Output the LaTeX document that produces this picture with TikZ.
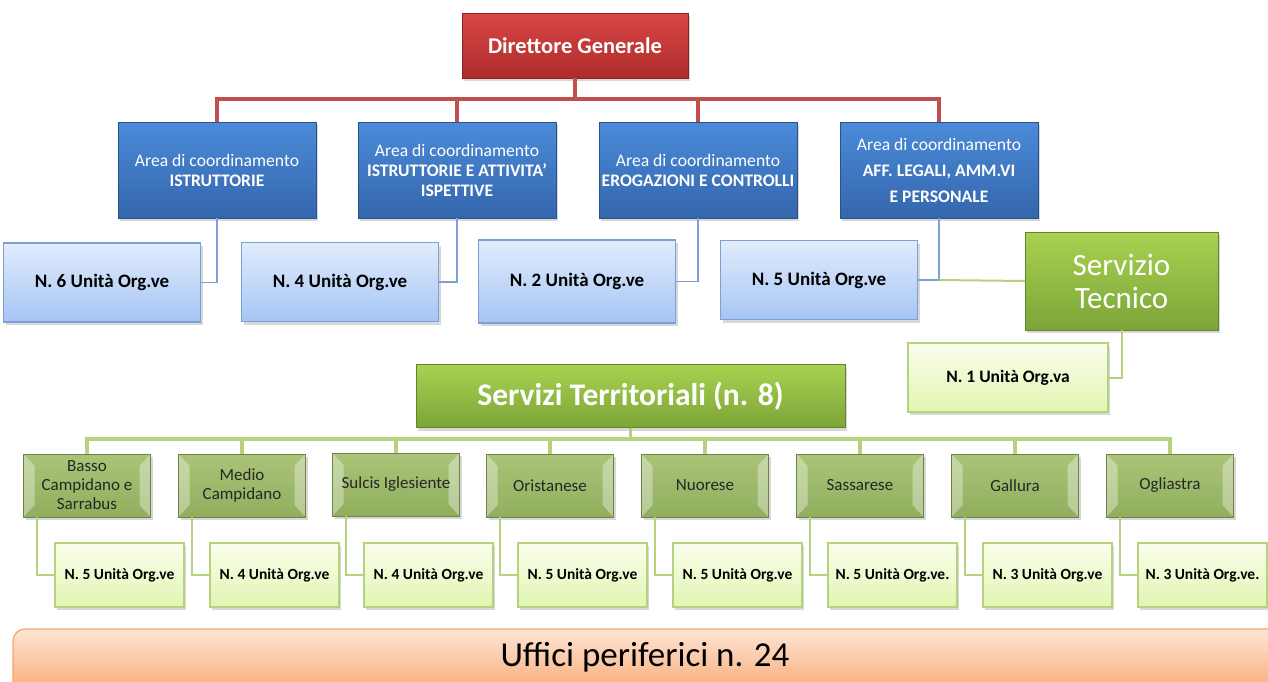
\documentclass[tikz,border=0pt]{standalone}
\usepackage{fontspec}
\setmainfont{Carlito}
\usetikzlibrary{shadows}

\definecolor{dgtop}{HTML}{DA4646}
\definecolor{dgbot}{HTML}{AE2B2B}
\definecolor{dgline}{HTML}{C0504D}
\definecolor{areatop}{HTML}{4B8BD9}
\definecolor{areabot}{HTML}{3466AC}
\definecolor{unittop}{HTML}{E1ECFC}
\definecolor{unitbot}{HTML}{A6C5F4}
\definecolor{unitline}{HTML}{7AA0D4}
\definecolor{servtop}{HTML}{A8D250}
\definecolor{servbot}{HTML}{7CA439}
\definecolor{terrtop}{HTML}{AAC478}
\definecolor{terrbot}{HTML}{91AE5E}
\definecolor{subtop}{HTML}{FBFEEC}
\definecolor{subbot}{HTML}{E1F5B2}
\definecolor{subline}{HTML}{B5D27E}
\definecolor{ufftop}{HTML}{FDE5D5}
\definecolor{uffbot}{HTML}{F7A46B}

\begin{document}
\begin{tikzpicture}[x=1pt,y=-1pt]
\tikzstyle{every node}+=[inner sep=0pt, outer sep=0pt]
\tikzstyle{boxshadow}=[drop shadow={shadow xshift=2pt, shadow yshift=-3pt, opacity=0.3}]
\tikzstyle{dirbox}=[boxshadow, top color=dgtop, bottom color=dgbot, draw=dgbot!80!black, line width=1pt, text=white, font=\fontsize{22.5}{26}\selectfont\bfseries]
\tikzstyle{areabox}=[boxshadow, top color=areatop, bottom color=areabot, draw=areabot!80!black, line width=1pt, text=white, align=center, minimum width=198, minimum height=96, font=\fontsize{17.6}{20}\selectfont]
\tikzstyle{unitbox}=[boxshadow, top color=unittop, bottom color=unitbot, draw=unitline, line width=1.2pt, minimum width=197, minimum height=79, font=\fontsize{19}{22}\selectfont\bfseries]
\tikzstyle{servbox}=[boxshadow, top color=servtop, bottom color=servbot, draw=servbot!80!black, line width=1pt, text=white, align=center]
\tikzstyle{terrbox}=[boxshadow, top color=terrtop, bottom color=terrbot, draw=terrbot!75!black, line width=1pt, text=black!85, align=center, minimum width=127, minimum height=63, font=\fontsize{17}{19}\selectfont,
  path picture={
    \fill[white,opacity=0.35] (path picture bounding box.north west) -- ([xshift=11pt,yshift=-12pt]path picture bounding box.north west) -- ([xshift=11pt,yshift=12pt]path picture bounding box.south west) -- (path picture bounding box.south west) -- cycle;
    \fill[white,opacity=0.35] (path picture bounding box.north east) -- ([xshift=-11pt,yshift=-12pt]path picture bounding box.north east) -- ([xshift=-11pt,yshift=12pt]path picture bounding box.south east) -- (path picture bounding box.south east) -- cycle;}]
\tikzstyle{subbox}=[boxshadow, top color=subtop, bottom color=subbot, draw=subline, line width=1.2pt, minimum width=129, minimum height=64, font=\fontsize{15.5}{18}\selectfont\bfseries]
\tikzstyle{redline}=[dgline, line width=3.5pt]
\tikzstyle{blueline}=[unitline, line width=1.8pt]
\tikzstyle{greenline}=[subline, line width=2pt]
\tikzstyle{terrline}=[subline, line width=3.5pt]

\clip (0,0) rectangle (1268,681);
\fill[white] (0,0) rectangle (1268,681);

% direzione e aree
\node[dirbox, minimum width=226, minimum height=65] (dg) at (575,45.5) {Direttore Generale};
\node[areabox] (a1) at (217,170) {Area di coordinamento\\\textbf{ISTRUTTORIE}};
\node[areabox] (a2) at (457,170) {Area di coordinamento\\\textbf{ISTRUTTORIE E ATTIVITA’}\\\textbf{ISPETTIVE}};
\node[areabox] (a3) at (698,170) {Area di coordinamento\\\textbf{EROGAZIONI E CONTROLLI}};
\node[areabox] (a4) at (939,170) {Area di coordinamento\\[6pt]\textbf{AFF. LEGALI, AMM.VI}\\[6pt]\textbf{E PERSONALE}};
\coordinate (rbus) at (575,99);
\draw[redline] (dg.south) -- (rbus);
\draw[redline] (rbus) -| (a1.north);
\draw[redline] (rbus) -| (a2.north);
\draw[redline] (rbus) -| (a3.north);
\draw[redline] (rbus) -| (a4.north);

\node[unitbox] (u1) at (102,282.5) {N. 6 Unità Org.ve};
\node[unitbox] (u2) at (340,282) {N. 4 Unità Org.ve};
\node[unitbox, minimum height=83] (u3) at (577,281.5) {N. 2 Unità Org.ve};
\node[unitbox] (u4) at (819,280) {N. 5 Unità Org.ve};
\draw[blueline] (a1.south) |- (u1.east);
\draw[blueline] (a2.south) |- (u2.east);
\draw[blueline] (a3.south) |- (u3.east);
\draw[blueline] (a4.south) |- (u4.east);

\node[servbox, minimum width=193, minimum height=98, font=\fontsize{31}{33}\selectfont] (st) at (1121.5,281) {Servizio\\Tecnico};
\node[subbox, minimum width=200, minimum height=69, font=\fontsize{17.5}{20}\selectfont\bfseries] (n1) at (1008,377.5) {N. 1 Unità Org.va};
\draw[greenline] (a4.south |- u4.east) -- (st.west);
\draw[greenline] (st.south) |- (n1.east);

% servizi territoriali
\node[servbox, minimum width=429, minimum height=63, font=\fontsize{31.5}{33}\selectfont\bfseries] (sv) at (630.5,396) {Servizi Territoriali (n. 8)};
\node[terrbox] (t1) at (87,485.5) {Basso\\Campidano e\\Sarrabus};
\node[terrbox] (t2) at (242,485.5) {Medio\\Campidano};
\node[terrbox] (t3) at (396,484.5) {Sulcis Iglesiente};
\node[terrbox] (t4) at (550,485.5) {Oristanese};
\node[terrbox] (t5) at (705,485.5) {Nuorese};
\node[terrbox] (t6) at (860,485.5) {Sassarese};
\node[terrbox] (t7) at (1015,485.5) {Gallura};
\node[terrbox] (t8) at (1170,485.5) {Ogliastra};
\coordinate (gbus) at (630.5,439);
\draw[terrline] (sv.south) -- (gbus);
\draw[terrline] (gbus) -| (t1.north);
\draw[terrline] (gbus) -| (t2.north);
\draw[terrline] (gbus) -| (t3.north);
\draw[terrline] (gbus) -| (t4.north);
\draw[terrline] (gbus) -| (t5.north);
\draw[terrline] (gbus) -| (t6.north);
\draw[terrline] (gbus) -| (t7.north);
\draw[terrline] (gbus) -| (t8.north);

\node[subbox] (s1) at (119.5,575) {N. 5 Unità Org.ve};
\node[subbox] (s2) at (274.5,575) {N. 4 Unità Org.ve};
\node[subbox] (s3) at (428.5,575) {N. 4 Unità Org.ve};
\node[subbox] (s4) at (582.5,575) {N. 5 Unità Org.ve};
\node[subbox] (s5) at (737.5,575) {N. 5 Unità Org.ve};
\node[subbox] (s6) at (892.5,575) {N. 5 Unità Org.ve.};
\node[subbox] (s7) at (1047.5,575) {N. 3 Unità Org.ve};
\node[subbox] (s8) at (1202.5,575) {N. 3 Unità Org.ve.};
\draw[greenline] (t1.south west) ++(13,0) |- (s1.west);
\draw[greenline] (t2.south west) ++(13,0) |- (s2.west);
\draw[greenline] (t3.south west) ++(13,0) |- (s3.west);
\draw[greenline] (t4.south west) ++(13,0) |- (s4.west);
\draw[greenline] (t5.south west) ++(13,0) |- (s5.west);
\draw[greenline] (t6.south west) ++(13,0) |- (s6.west);
\draw[greenline] (t7.south west) ++(13,0) |- (s7.west);
\draw[greenline] (t8.south west) ++(13,0) |- (s8.west);

% uffici periferici
\draw[rounded corners=12pt, top color=ufftop, bottom color=uffbot, draw=uffbot, line width=1.2pt] (13,629) rectangle (1300,700);
\node[font=\fontsize{35}{37}\selectfont] (uff) at (645,657) {Uffici periferici n. 24};
\end{tikzpicture}
\end{document}
